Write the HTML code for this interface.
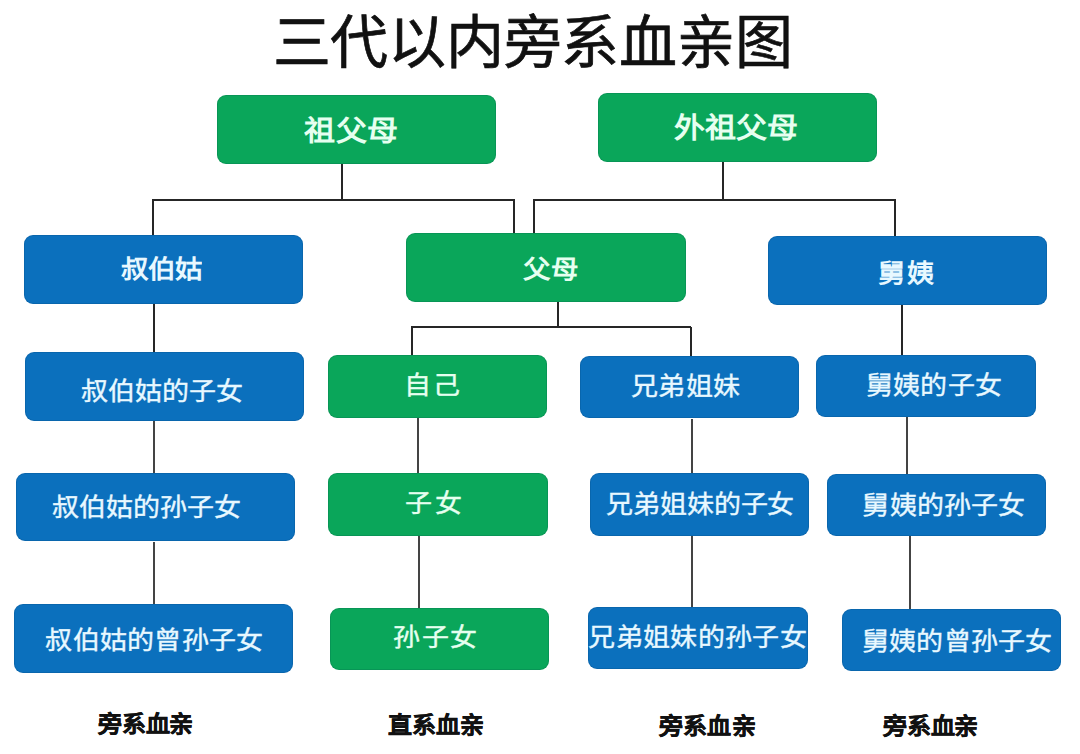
<!DOCTYPE html>
<html lang="zh-CN"><head><meta charset="utf-8"><title>三代以内旁系血亲图</title>
<style>
html,body{margin:0;padding:0;background:#fff;}
body{width:1080px;height:754px;position:relative;overflow:hidden;font-family:"Liberation Sans",sans-serif;}
.b{position:absolute;border-radius:9px;box-shadow:inset 0 0 0 1px rgba(0,30,60,0.12);}
.t{position:absolute;white-space:nowrap;line-height:1;}
.l{position:absolute;background:#262626;}
</style></head><body>
<div class="l" style="left:341.00px;top:164.00px;width:2px;height:36.00px"></div>
<div class="l" style="left:151.60px;top:199.00px;width:363.40px;height:2px"></div>
<div class="l" style="left:151.60px;top:200.00px;width:2px;height:34.50px"></div>
<div class="l" style="left:513.00px;top:200.00px;width:2px;height:33.30px"></div>
<div class="l" style="left:722.00px;top:161.50px;width:2px;height:38.00px"></div>
<div class="l" style="left:532.50px;top:198.50px;width:363.90px;height:2px"></div>
<div class="l" style="left:532.50px;top:199.50px;width:2px;height:33.80px"></div>
<div class="l" style="left:894.40px;top:199.50px;width:2px;height:36.20px"></div>
<div class="l" style="left:153.00px;top:304.00px;width:2px;height:47.90px"></div>
<div class="l" style="left:153.00px;top:420.90px;width:2px;height:51.80px;background:#444"></div>
<div class="l" style="left:152.50px;top:541.50px;width:2px;height:62.40px;background:#444"></div>
<div class="l" style="left:557.30px;top:302.40px;width:2px;height:24.60px"></div>
<div class="l" style="left:411.20px;top:326.00px;width:280.30px;height:2px"></div>
<div class="l" style="left:411.20px;top:327.00px;width:2px;height:28.40px"></div>
<div class="l" style="left:689.50px;top:327.00px;width:2px;height:28.70px"></div>
<div class="l" style="left:416.60px;top:417.60px;width:2px;height:55.10px;background:#444"></div>
<div class="l" style="left:418.00px;top:535.60px;width:2px;height:72.40px;background:#444"></div>
<div class="l" style="left:691.40px;top:418.50px;width:2px;height:54.60px;background:#444"></div>
<div class="l" style="left:691.00px;top:535.90px;width:2px;height:70.80px;background:#444"></div>
<div class="l" style="left:900.60px;top:305.30px;width:2px;height:49.70px"></div>
<div class="l" style="left:906.00px;top:417.20px;width:2px;height:56.70px;background:#444"></div>
<div class="l" style="left:909.00px;top:536.20px;width:2px;height:72.50px;background:#444"></div>
<div class="b" style="left:217.00px;top:95.00px;width:279.00px;height:69.00px;background:#0aa65a"></div>
<div class="b" style="left:598.00px;top:93.00px;width:279.00px;height:68.50px;background:#0aa65a"></div>
<div class="b" style="left:23.60px;top:234.50px;width:279.20px;height:69.50px;background:#0b70bd"></div>
<div class="b" style="left:406.30px;top:233.30px;width:279.40px;height:69.10px;background:#0aa65a"></div>
<div class="b" style="left:768.00px;top:235.70px;width:278.80px;height:69.60px;background:#0b70bd"></div>
<div class="b" style="left:25.20px;top:351.90px;width:278.50px;height:69.00px;background:#0b70bd"></div>
<div class="b" style="left:328.40px;top:355.40px;width:218.60px;height:62.20px;background:#0aa65a"></div>
<div class="b" style="left:580.10px;top:355.70px;width:219.30px;height:62.80px;background:#0b70bd"></div>
<div class="b" style="left:816.10px;top:355.00px;width:219.50px;height:62.20px;background:#0b70bd"></div>
<div class="b" style="left:16.30px;top:472.70px;width:278.50px;height:68.80px;background:#0b70bd"></div>
<div class="b" style="left:328.40px;top:472.70px;width:219.50px;height:62.90px;background:#0aa65a"></div>
<div class="b" style="left:590.20px;top:473.10px;width:218.80px;height:62.80px;background:#0b70bd"></div>
<div class="b" style="left:827.20px;top:473.90px;width:219.10px;height:62.30px;background:#0b70bd"></div>
<div class="b" style="left:14.20px;top:603.90px;width:279.10px;height:68.70px;background:#0b70bd"></div>
<div class="b" style="left:330.10px;top:608.00px;width:219.30px;height:62.20px;background:#0aa65a"></div>
<div class="b" style="left:588.10px;top:606.70px;width:219.90px;height:62.70px;background:#0b70bd"></div>
<div class="b" style="left:842.00px;top:608.70px;width:219.30px;height:62.80px;background:#0b70bd"></div>
<div class="t" style="left:304.00px;top:116.20px;font-size:31.00px;letter-spacing:0.50px;font-weight:700;color:#e6fff0;transform:scaleY(0.93);">祖父母</div>
<div class="t" style="left:674.20px;top:112.80px;font-size:31.00px;letter-spacing:-0.13px;font-weight:700;color:#e6fff0;transform:scaleY(0.93);">外祖父母</div>
<div class="t" style="left:120.50px;top:256.40px;font-size:27.50px;letter-spacing:0.00px;font-weight:700;color:#e8f8ff;transform:scaleY(0.93);">叔伯姑</div>
<div class="t" style="left:522.70px;top:256.20px;font-size:27.50px;letter-spacing:1.80px;font-weight:700;color:#e6fff0;transform:scaleY(0.93);">父母</div>
<div class="t" style="left:878.00px;top:261.00px;font-size:27.00px;letter-spacing:1.80px;font-weight:700;color:#e8f8ff;transform:scaleY(0.93);">舅姨</div>
<div class="t" style="left:81.20px;top:378.60px;font-size:27.00px;letter-spacing:0.00px;font-weight:400;color:#e8f8ff;-webkit-text-stroke:0.4px #e8f8ff;transform:scaleY(0.93);">叔伯姑的子女</div>
<div class="t" style="left:403.90px;top:373.20px;font-size:27.00px;letter-spacing:2.60px;font-weight:400;color:#e6fff0;-webkit-text-stroke:0.4px #e6fff0;transform:scaleY(0.93);">自己</div>
<div class="t" style="left:630.80px;top:374.20px;font-size:27.00px;letter-spacing:0.46px;font-weight:400;color:#e8f8ff;-webkit-text-stroke:0.4px #e8f8ff;transform:scaleY(0.93);">兄弟姐妹</div>
<div class="t" style="left:865.90px;top:373.10px;font-size:27.00px;letter-spacing:0.26px;font-weight:400;color:#e8f8ff;-webkit-text-stroke:0.4px #e8f8ff;transform:scaleY(0.93);">舅姨的子女</div>
<div class="t" style="left:51.90px;top:495.20px;font-size:27.00px;letter-spacing:0.10px;font-weight:400;color:#e8f8ff;-webkit-text-stroke:0.4px #e8f8ff;transform:scaleY(0.93);">叔伯姑的孙子女</div>
<div class="t" style="left:405.40px;top:491.30px;font-size:27.00px;letter-spacing:2.60px;font-weight:400;color:#e6fff0;-webkit-text-stroke:0.4px #e6fff0;transform:scaleY(0.93);">子女</div>
<div class="t" style="left:605.80px;top:491.60px;font-size:27.00px;letter-spacing:-0.05px;font-weight:400;color:#e8f8ff;-webkit-text-stroke:0.4px #e8f8ff;transform:scaleY(0.93);">兄弟姐妹的子女</div>
<div class="t" style="left:862.40px;top:493.40px;font-size:27.00px;letter-spacing:0.20px;font-weight:400;color:#e8f8ff;-webkit-text-stroke:0.4px #e8f8ff;transform:scaleY(0.93);">舅姨的孙子女</div>
<div class="t" style="left:45.40px;top:628.00px;font-size:27.00px;letter-spacing:0.25px;font-weight:400;color:#e8f8ff;-webkit-text-stroke:0.4px #e8f8ff;transform:scaleY(0.93);">叔伯姑的曾孙子女</div>
<div class="t" style="left:393.20px;top:625.30px;font-size:27.00px;letter-spacing:1.40px;font-weight:400;color:#e6fff0;-webkit-text-stroke:0.4px #e6fff0;transform:scaleY(0.93);">孙子女</div>
<div class="t" style="left:588.20px;top:625.10px;font-size:27.00px;letter-spacing:0.36px;font-weight:400;color:#e8f8ff;-webkit-text-stroke:0.4px #e8f8ff;transform:scaleY(0.93);">兄弟姐妹的孙子女</div>
<div class="t" style="left:861.90px;top:629.20px;font-size:27.00px;letter-spacing:0.24px;font-weight:400;color:#e8f8ff;-webkit-text-stroke:0.4px #e8f8ff;transform:scaleY(0.93);">舅姨的曾孙子女</div>
<div class="t" style="left:98.20px;top:713.00px;font-size:24.00px;letter-spacing:-0.25px;font-weight:700;color:#111;-webkit-text-stroke:0.5px #111;transform:scaleY(0.93);">旁系血亲</div>
<div class="t" style="left:387.50px;top:714.10px;font-size:24.00px;letter-spacing:0.20px;font-weight:700;color:#111;-webkit-text-stroke:0.5px #111;transform:scaleY(0.93);">直系血亲</div>
<div class="t" style="left:659.20px;top:715.20px;font-size:24.00px;letter-spacing:0.13px;font-weight:700;color:#111;-webkit-text-stroke:0.5px #111;transform:scaleY(0.93);">旁系血亲</div>
<div class="t" style="left:883.00px;top:714.90px;font-size:24.00px;letter-spacing:-0.25px;font-weight:700;color:#111;-webkit-text-stroke:0.5px #111;transform:scaleY(0.93);">旁系血亲</div>
<div class="t" style="left:272.50px;top:14.00px;font-size:58.00px;letter-spacing:-0.25px;font-weight:400;color:#111;-webkit-text-stroke:0.7px #111;">三代以内旁系血亲图</div>
</body></html>
